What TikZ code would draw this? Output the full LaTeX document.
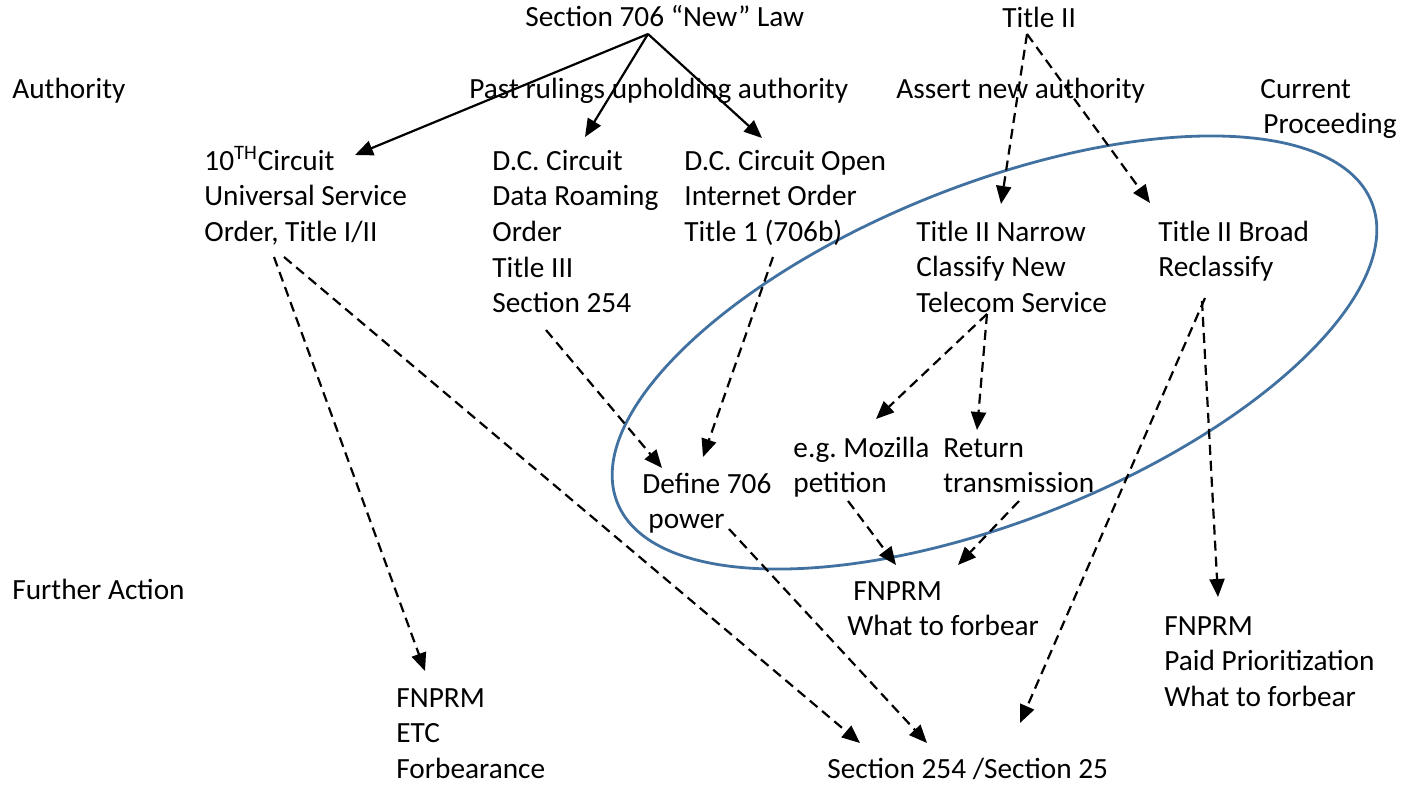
\documentclass[tikz,border=0pt]{standalone}
\usepackage{fontspec}
\setmainfont{Carlito}
\usetikzlibrary{arrows.meta}
\definecolor{ringblue}{RGB}{65,113,160}

\begin{document}
\begin{tikzpicture}[x=0.5pt,y=-0.5pt,
    every node/.style={anchor=base west,inner sep=0pt,align=left,
      font=\fontsize{14.65}{17.85}\selectfont},
    upheld/.style={-{Triangle[length=9pt,width=7.5pt]},line width=1.1pt},
    asserted/.style={upheld,dash pattern=on 5pt off 3pt}]
   \useasboundingbox (0,0) rectangle (1403,788);
   \draw[ringblue,line width=1.4pt,rotate around={21.7:(994.5,352.5)}] (994.5,352.5) ellipse (406 and 168);
   \node (auth) at (12,98) {Authority};
   \node (further) at (12,599) {Further Action};
   \node (sec706) at (525,26) {Section 706 “New” Law};
   \node (titleII) at (1002,27) {Title II};
   \node (past) at (469,98) {Past rulings upholding authority};
   \node (assert) at (896,98) {Assert new authority};
   \node (current) at (1260,133.7) {Current\\\hspace*{1.5pt}Proceeding};
   \node (tenth) at (204,241.4) {10\textsuperscript{TH}Circuit\\Universal Service\\Order, Title I/II};
   \node (dcroam) at (492,312.8) {D.C. Circuit\\Data Roaming\\Order\\Title III\\Section 254};
   \node (dcopen) at (684,241.4) {D.C. Circuit Open\\Internet Order\\Title 1 (706b)};
   \node (narrow) at (916,312.4) {Title II Narrow\\Classify New\\Telecom Service};
   \node (broad) at (1158,276.7) {Title II Broad\\Reclassify};
   \node (mozilla) at (793,492.7) {e.g.\ Mozilla\\petition};
   \node (return) at (943,492.7) {Return\\transmission};
   \node (define) at (642,528.7) {Define 706\\\hspace*{3pt}power};
   \node (forbear) at (847,635.7) {\hspace*{3pt}FNPRM\\What to forbear};
   \node (paid) at (1164,706.4) {FNPRM\\Paid Prioritization\\What to forbear};
   \node (etc) at (396,778.4) {FNPRM\\ETC\\Forbearance};
   \node (sec254) at (827,778) {Section 254 /Section 25};
   \draw[upheld] ([shift={(123,8)}]sec706.base west) -- ([shift={(151,-86.4)}]tenth.base west);
   \draw[upheld] ([shift={(123,8)}]sec706.base west) -- ([shift={(93,-175.8)}]dcroam.base west);
   \draw[upheld] ([shift={(123,8)}]sec706.base west) -- ([shift={(78,-103.4)}]dcopen.base west);
   \draw[asserted] ([shift={(25,7)}]titleII.base west) -- ([shift={(85,-108.4)}]narrow.base west);
   \draw[asserted] ([shift={(25,7)}]titleII.base west) -- ([shift={(-8,-73.7)}]broad.base west);
   \draw[asserted] ([shift={(71,1.6)}]narrow.base west) -- ([shift={(83,-73.7)}]mozilla.base west);
   \draw[asserted] ([shift={(71,1.6)}]narrow.base west) -- ([shift={(34,-62.7)}]return.base west);
   \draw[asserted] ([shift={(89,15.6)}]dcopen.base west) -- ([shift={(61,-71.7)}]define.base west);
   \draw[asserted] ([shift={(54,17.2)}]dcroam.base west) -- ([shift={(20,-60.7)}]define.base west);
   \draw[asserted] ([shift={(70,15.6)}]tenth.base west) -- ([shift={(29,-107.4)}]etc.base west);
   \draw[asserted] ([shift={(80,15.6)}]tenth.base west) -- ([shift={(33,-35)}]sec254.base west);
   \draw[asserted] ([shift={(87,0.3)}]define.base west) -- ([shift={(100,-35)}]sec254.base west);
   \draw[asserted] ([shift={(55,8.3)}]mozilla.base west) -- ([shift={(49,-70.7)}]forbear.base west);
   \draw[asserted] ([shift={(76,8.3)}]return.base west) -- ([shift={(111,-70.7)}]forbear.base west);
   \draw[asserted] ([shift={(47,21.3)}]broad.base west) -- ([shift={(193,-55)}]sec254.base west);
   \draw[asserted] ([shift={(44,24.3)}]broad.base west) -- ([shift={(54,-109.4)}]paid.base west);
\end{tikzpicture}
\end{document}
